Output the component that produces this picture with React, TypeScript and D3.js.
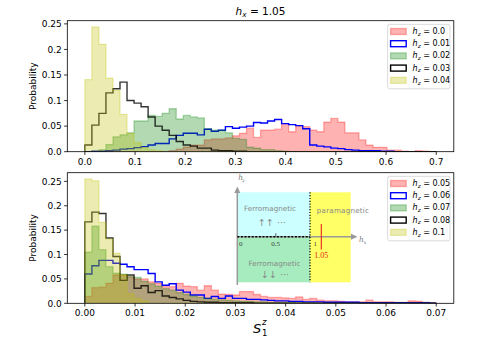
import React from "react";
import * as d3 from "d3";

const W = 478;
const H = 338;

// ---------- data ----------
const nBins = 50;
const topRange: [number, number] = [0, 0.7];
const botRange: [number, number] = [0, 0.07];

const topLabels = ["0.0", "0.01", "0.02", "0.03", "0.04"];
const botLabels = ["0.05", "0.06", "0.07", "0.08", "0.1"];

const topRed = [0,0,0,0,0,0,0,0,0,0, 0,0,0.002,0.005,0.009,0.013,0.013,0.023,0.025,0.025, 0.027,0.031,0.036,0.046,0.028,0.042,0.042,0.044,0.055,0.039, 0.05,0.049,0.042,0.039,0.058,0.065,0.058,0.037,0.037,0.023, 0.013,0.0085,0.0085,0.003,0.003,0.001,0,0.002,0.001,0];
const topBlue = [0,0.001,0.001,0.002,0.003,0.005,0.006,0.008,0.01,0.013, 0.016,0.016,0.025,0.032,0.036,0.036,0.033,0.044,0.04,0.042, 0.049,0.046,0.048,0.05,0.057,0.056,0.06,0.063,0.055,0.053, 0.051,0.045,0.013,0.011,0.0095,0.007,0.006,0.004,0.003,0.002, 0.002,0.002,0.001,0.001,0,0,0,0,0,0];
const topGreen = [0,0.001,0.004,0.014,0.029,0.033,0.037,0.06,0.06,0.071, 0.069,0.075,0.084,0.064,0.071,0.068,0.066,0.045,0.042,0.042, 0.037,0.026,0.024,0.009,0.007,0.004,0.004,0.002,0.001,0, 0,0,0,0,0,0,0,0,0,0, 0,0,0,0,0,0,0,0,0,0];
const topBlack = [0.013,0.052,0.075,0.115,0.123,0.136,0.1,0.095,0.088,0.068, 0.05,0.042,0.032,0.02,0.013,0.011,0.007,0.007,0.003,0.002, 0.002,0.001,0.001,0,0,0,0,0,0,0, 0,0,0,0,0,0,0,0,0,0, 0,0,0,0,0,0,0,0,0,0];
const topYellow = [0.141,0.244,0.21,0.144,0.12,0.073,0.036,0.018,0.008,0.004, 0.002,0,0,0,0,0,0,0,0,0, 0,0,0,0,0,0,0,0,0,0, 0,0,0,0,0,0,0,0,0,0, 0,0,0,0,0,0,0,0,0,0];

const botRed = [0.014,0.032,0.033,0.041,0.058,0.058,0.054,0.05,0.05,0.044, 0.041,0.034,0.034,0.041,0.035,0.034,0.027,0.036,0.027,0.019, 0.018,0.017,0.024,0.024,0.018,0.014,0.012,0.012,0.011,0.01, 0.013,0.008,0.01,0.0065,0.005,0.005,0.004,0.003,0.003,0.003, 0.0065,0.003,0.003,0.003,0.002,0.002,0.005,0.004,0.002,0.001];
const botBlue = [0.06,0.077,0.088,0.088,0.082,0.08,0.075,0.069,0.069,0.061, 0.044,0.037,0.04,0.027,0.023,0.017,0.017,0.01,0.014,0.01, 0.015,0.01,0.01,0.008,0.008,0.007,0.006,0.005,0.005,0.004, 0.004,0.003,0.003,0.003,0.002,0.002,0.002,0.002,0.002,0.001, 0.001,0.001,0.001,0.001,0.001,0.001,0.001,0.001,0.001,0];
const botGreen = [0.105,0.158,0.11,0.075,0.062,0.06,0.055,0.053,0.045,0.04, 0.035,0.03,0.027,0.022,0.018,0.015,0.012,0.01,0.008,0.007, 0.006,0.005,0.004,0.004,0.003,0.003,0.002,0.002,0.002,0.002, 0.001,0.001,0.001,0,0,0,0,0,0,0, 0,0,0,0,0,0,0,0,0,0];
const botBlack = [0.167,0.187,0.184,0.134,0.096,0.047,0.058,0.031,0.036,0.022, 0.026,0.015,0.012,0.009,0.006,0.004,0.003,0.002,0.002,0.001, 0.001,0.001,0.001,0.001,0,0,0,0,0,0, 0,0,0,0,0,0,0,0,0,0, 0,0,0,0,0,0,0,0,0,0];
const botYellow = [0.255,0.251,0.166,0.132,0.103,0.058,0.02,0.01,0.005,0, 0,0,0,0,0,0,0,0,0,0, 0,0,0,0,0,0,0,0,0,0, 0,0,0,0,0,0,0,0,0,0, 0,0,0,0,0,0,0,0,0,0];

const topTicksX = [0, 0.1, 0.2, 0.3, 0.4, 0.5, 0.6, 0.7];
const botTicksX = [0, 0.01, 0.02, 0.03, 0.04, 0.05, 0.06, 0.07];
const ticksY = [0, 0.05, 0.1, 0.15, 0.2, 0.25];
const topTickFmt = d3.format(".1f");
const botTickFmt = d3.format(".2f");
const yFmt = (v: number) => (v === 0 ? "0.0" : String(+v.toFixed(2)));

// ---------- styles ----------
type Style = { kind: "fill" | "step"; color: string };
const styles: Style[] = [
  { kind: "fill", color: "#ff0000" },
  { kind: "step", color: "#0000ff" },
  { kind: "fill", color: "#008000" },
  { kind: "step", color: "#000000" },
  { kind: "fill", color: "#bfbf00" },
];

const FONT = "DejaVu Sans, sans-serif";

const axL = 67.3;
const axR = 453.8;

function edges(range: [number, number]) {
  return d3.range(nBins + 1).map((i) => range[0] + ((range[1] - range[0]) * i) / nBins);
}

function stepPoints(vals: number[], e: number[]): [number, number][] {
  const pts: [number, number][] = [[e[0], 0]];
  vals.forEach((v, i) => {
    pts.push([e[i], v]);
    pts.push([e[i + 1], v]);
  });
  pts.push([e[nBins], 0]);
  return pts;
}

function MathLabel({ x, y, sub, rest, size }: { x: number; y: number; sub: string; rest: string; size: number }) {
  return (
    <text x={x} y={y} fontFamily={FONT} fontSize={size} fill="#000">
      <tspan fontStyle="italic">h</tspan>
      <tspan fontStyle="italic" fontSize={size * 0.7} dy={size * 0.22}>{sub}</tspan>
      <tspan dy={-size * 0.22}>{rest}</tspan>
    </text>
  );
}

function Panel({
  top, bottom, range, series, labels, ticksX, fmt,
}: {
  top: number; bottom: number; range: [number, number]; series: number[][]; labels: string[]; ticksX: number[]; fmt: (v: number) => string;
}) {
  const span = range[1] - range[0];
  const x = d3.scaleLinear().domain([range[0] - span * 0.05, range[1] + span * 0.05]).range([axL, axR]);
  const ymax = (d3.max(series.flat()) || 0) * 1.05;
  const y = d3.scaleLinear().domain([0, ymax]).range([bottom, top]);
  const e = edges(range);
  const line = d3.line<[number, number]>().x((d) => x(d[0])).y((d) => y(d[1]));

  const legX = axR - 66.2;
  const legY = top + 3.6;
  const rowH = 12.2;

  return (
    <g>
      <defs>
        <clipPath id={`clip${top}`}>
          <rect x={axL} y={top} width={axR - axL} height={bottom - top} />
        </clipPath>
      </defs>
      <g clipPath={`url(#clip${top})`}>
        {series.map((vals, i) => {
          const st = styles[i];
          const d = line(stepPoints(vals, e)) || "";
          return st.kind === "fill" ? (
            <path key={i} d={d} fill={st.color} fillOpacity={0.3} stroke={st.color} strokeOpacity={0.3} strokeWidth={1.3} />
          ) : (
            <path key={i} d={d} fill="none" stroke={st.color} strokeOpacity={st.color === "#000000" ? 0.8 : 1} strokeWidth={1.4} />
          );
        })}
      </g>
      <rect x={axL} y={top} width={axR - axL} height={bottom - top} fill="none" stroke="#000" strokeWidth={0.8} />
      {ticksX.map((t) => (
        <g key={t}>
          <line x1={x(t)} x2={x(t)} y1={bottom} y2={bottom + 3.2} stroke="#000" strokeWidth={0.8} />
          <text x={x(t)} y={bottom + 13} textAnchor="middle" fontFamily={FONT} fontSize={9} fill="#000">{fmt(t)}</text>
        </g>
      ))}
      {ticksY.map((t) => (
        <g key={t}>
          <line x1={axL - 3.2} x2={axL} y1={y(t)} y2={y(t)} stroke="#000" strokeWidth={0.8} />
          <text x={axL - 5.5} y={y(t) + 3.2} textAnchor="end" fontFamily={FONT} fontSize={9} fill="#000">{yFmt(t)}</text>
        </g>
      ))}
      <text transform={`translate(36,${(top + bottom) / 2}) rotate(-90)`} textAnchor="middle" fontFamily={FONT} fontSize={9} fill="#000">Probability</text>
      {/* legend */}
      <rect x={legX} y={legY} width={62.3} height={64.5} rx={2} fill="#fff" fillOpacity={0.8} stroke="#d0d0d0" strokeWidth={0.8} />
      {labels.map((lab, i) => {
        const st = styles[i];
        const cy = legY + 7.2 + i * rowH;
        return (
          <g key={lab}>
            {st.kind === "fill" ? (
              <rect x={legX + 3} y={cy - 3} width={15.6} height={6} fill={st.color} fillOpacity={0.3} stroke={st.color} strokeOpacity={0.3} strokeWidth={1.3} />
            ) : (
              <rect x={legX + 3} y={cy - 3} width={15.6} height={6} fill="none" stroke={st.color} strokeWidth={1.4} />
            )}
            <MathLabel x={legX + 25} y={cy + 2.5} sub="z" rest={` = ${lab}`} size={8} />
          </g>
        );
      })}
    </g>
  );
}

function Inset() {
  // phase diagram sketch placed inside the lower panel
  const ox = 237.3;
  const oy = 236.7;
  const gray = "#999";
  return (
    <g>
      <rect x={ox} y={192.3} width={310 - ox} height={oy - 192.3} fill="#ccffff" />
      <rect x={ox} y={oy} width={310 - ox} height={282.3 - oy} fill="#a6ecbe" />
      <rect x={310} y={192.3} width={40.7} height={90} fill="#ffff66" />
      <line x1={ox} y1={285} x2={ox} y2={192} stroke={gray} strokeWidth={1.5} />
      <path d={`M${ox - 3},${193} L${ox},${186.5} L${ox + 3},${193} Z`} fill={gray} />
      <line x1={ox} y1={oy} x2={352} y2={oy} stroke={gray} strokeWidth={1.5} />
      <path d={`M${351},${oy - 3} L${357.5},${oy} L${351},${oy + 3} Z`} fill={gray} />
      <line x1={ox} y1={oy} x2={310} y2={oy} stroke="#000" strokeWidth={1.5} strokeDasharray="2,1.6" />
      <line x1={310} y1={192.3} x2={310} y2={282.3} stroke="#000" strokeWidth={1.2} strokeDasharray="1.2,1.6" />
      <line x1={275.8} y1={oy - 3.5} x2={275.8} y2={oy} stroke="#444" strokeWidth={0.8} />
      <line x1={321.3} y1={224} x2={321.3} y2={249.5} stroke="#e8261b" strokeWidth={1.1} />
      <text x={ox + 1} y={179.5} fontFamily="DejaVu Serif, serif" fontStyle="italic" fontSize={7.5} fill="#777">h</text>
      <text x={ox + 5} y={181.5} fontFamily="DejaVu Serif, serif" fontStyle="italic" fontSize={5} fill="#777">z</text>
      <text x={359} y={242} fontFamily="DejaVu Serif, serif" fontStyle="italic" fontSize={7.5} fill="#777">h</text>
      <text x={363.5} y={244} fontFamily="DejaVu Serif, serif" fontStyle="italic" fontSize={5} fill="#777">x</text>
      <text x={239} y={246} fontFamily="Liberation Serif, serif" fontSize={7} fill="#444">0</text>
      <text x={275.5} y={246} textAnchor="middle" fontFamily="Liberation Serif, serif" fontSize={7} fill="#444">0.5</text>
      <text x={313.5} y={246} fontFamily="Liberation Serif, serif" fontSize={7} fill="#444">1</text>
      <text x={321.3} y={257.5} textAnchor="middle" fontFamily="Liberation Serif, serif" fontSize={8} fill="#e8261b">1.05</text>
      <text x={270} y={211} textAnchor="middle" fontFamily={FONT} fontSize={7.2} fill="#888">Ferromagnetic</text>
      <text x={272} y={226} textAnchor="middle" fontFamily={FONT} fontSize={9.5} fill="#888">↑↑ ···</text>
      <text x={343} y={212.5} textAnchor="middle" fontFamily={FONT} fontSize={7.2} fill="#888" letterSpacing={0.2}>paramagnetic</text>
      <text x={274.5} y={265.5} textAnchor="middle" fontFamily={FONT} fontSize={7.2} fill="#888">Ferromagnetic</text>
      <text x={275} y={278} textAnchor="middle" fontFamily={FONT} fontSize={9.5} fill="#888">↓↓ ···</text>
    </g>
  );
}

export default function App() {
  return (
    <svg width={W} height={H} style={{ position: "absolute", left: 0, top: 0, background: "#fff" }}>
      <rect width={W} height={H} fill="#fff" />
      <text x={260.5} y={15} textAnchor="middle" fontFamily={FONT} fontSize={10.5} fill="#000">
        <tspan fontStyle="italic">h</tspan>
        <tspan fontStyle="italic" fontSize={7.3} dy={2.4}>x</tspan>
        <tspan dy={-2.4}> = 1.05</tspan>
      </text>
      <Panel top={20.7} bottom={151.7} range={topRange} series={[topRed, topBlue, topGreen, topBlack, topYellow]} labels={topLabels} ticksX={topTicksX} fmt={topTickFmt} />
      <Panel top={172.7} bottom={303.3} range={botRange} series={[botRed, botBlue, botGreen, botBlack, botYellow]} labels={botLabels} ticksX={botTicksX} fmt={botTickFmt} />
      <Inset />
      <text x={253} y={333} fontFamily={FONT} fontStyle="italic" fontSize={13} fill="#000">S</text>
      <text x={262} y={335.5} fontFamily={FONT} fontSize={8.5} fill="#000">1</text>
      <text x={262} y={325} fontFamily={FONT} fontStyle="italic" fontSize={8.5} fill="#000">z</text>
    </svg>
  );
}
